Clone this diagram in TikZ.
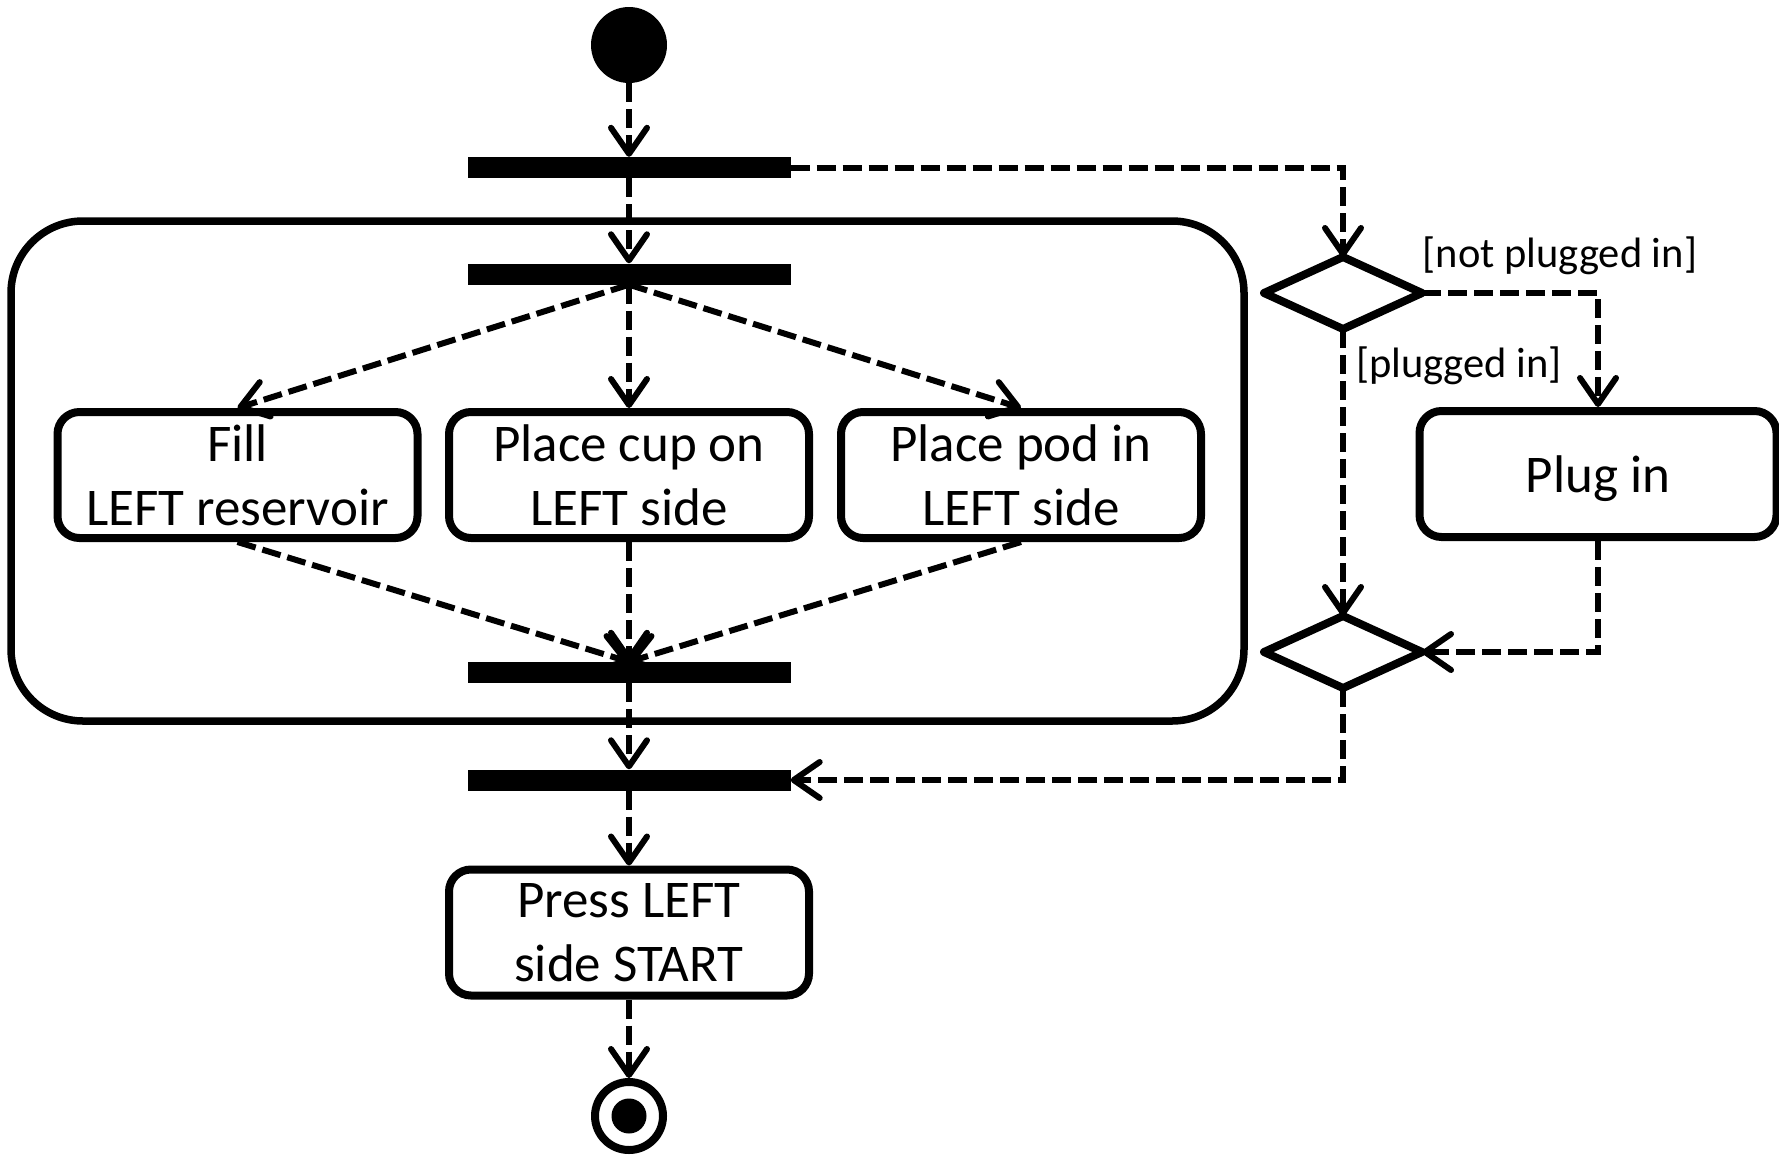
\documentclass[tikz,border=0pt]{standalone}
\usepackage{fontspec}
\setmainfont{Carlito}
\usetikzlibrary{arrows.meta,shapes.geometric}
\newcommand{\boxfont}{\fontsize{53}{64}\selectfont}
\newcommand{\lblfont}{\fontsize{42.5}{50}\selectfont}
\tikzset{
  actbox/.style={draw, line width=8pt, rounded corners=22pt, minimum width=360pt, minimum height=126pt, inner sep=0pt, align=center, font=\boxfont},
  barnode/.style={fill=black, inner sep=0pt, minimum width=323pt, minimum height=21pt},
  decnode/.style={diamond, draw, line width=8pt, line join=round, minimum width=158pt, minimum height=72pt, inner sep=0pt, outer sep=0pt},
  flow/.style={line width=6pt, dash pattern=on 19pt off 7pt, -{Straight Barb[length=26pt,width=36pt,round]}},
  lbl/.style={font=\lblfont, inner sep=0pt},
}
\begin{document}
\begin{tikzpicture}[x=1pt, y={(0pt,-1pt)}]
\useasboundingbox[fill=white] (0,0) rectangle (1779,1154);
% container
\node[draw, line width=7.5pt, rounded corners=72pt, minimum width=1233pt, minimum height=500pt, inner sep=0pt] (grp) at (627.5,471) {};
% initial and final
\node[circle, fill=black, minimum size=76pt, inner sep=0pt] (init) at (629,45) {};
\node[circle, draw, line width=8pt, minimum size=68pt, inner sep=0pt] (final) at (629,1116) {};
\node[circle, fill=black, minimum size=35pt, inner sep=0pt] (finaldot) at (629,1116) {};
% bars
\node[barnode] (bar1) at (629,167.5) {};
\node[barnode] (bar2) at (629,274) {};
\node[barnode] (bar3) at (629,672.5) {};
\node[barnode] (bar4) at (629,780) {};
% actions
\node[actbox] (fill) at (237.5,475) {Fill\\LEFT reservoir};
\node[actbox] (cup) at (629,475) {Place cup on\\LEFT side};
\node[actbox] (pod) at (1021,475) {Place pod in\\LEFT side};
\node[actbox, minimum width=357pt, text depth=0pt] (plug) at (1598,474) {Plug in};
\node[actbox] (press) at (629,932.5) {Press LEFT\\side START};
% decisions
\node[decnode] (dec1) at (1343,293) {};
\node[decnode] (dec2) at (1343,652) {};
% labels
\node[lbl] (lnot) at (1560,256) {[not plugged in]};
\node[lbl] (lyes) at (1459,366) {[plugged in]};
% connectors
\draw[flow] (init.south) -- (bar1.north);
\draw[flow] (bar1.south) -- (bar2.north);
\draw[flow] (bar1.east) -| (dec1.north);
\draw[flow] (bar2.south) -- (fill.north);
\draw[flow] (bar2.south) -- (cup.north);
\draw[flow] (bar2.south) -- (pod.north);
\draw[flow] (fill.south) -- (bar3.north);
\draw[flow] (cup.south) -- (bar3.north);
\draw[flow] (pod.south) -- (bar3.north);
\draw[flow] (bar3.south) -- (bar4.north);
\draw[flow] (bar4.south) -- (press.north);
\draw[flow] (press.south) -- (final.north);
\draw[flow] (dec1.east) -| (plug.north);
\draw[flow] (dec1.south) -- (dec2.north);
\draw[flow] (plug.south) |- (dec2.east);
\draw[flow] (dec2.south) |- (bar4.east);
\end{tikzpicture}
\end{document}
